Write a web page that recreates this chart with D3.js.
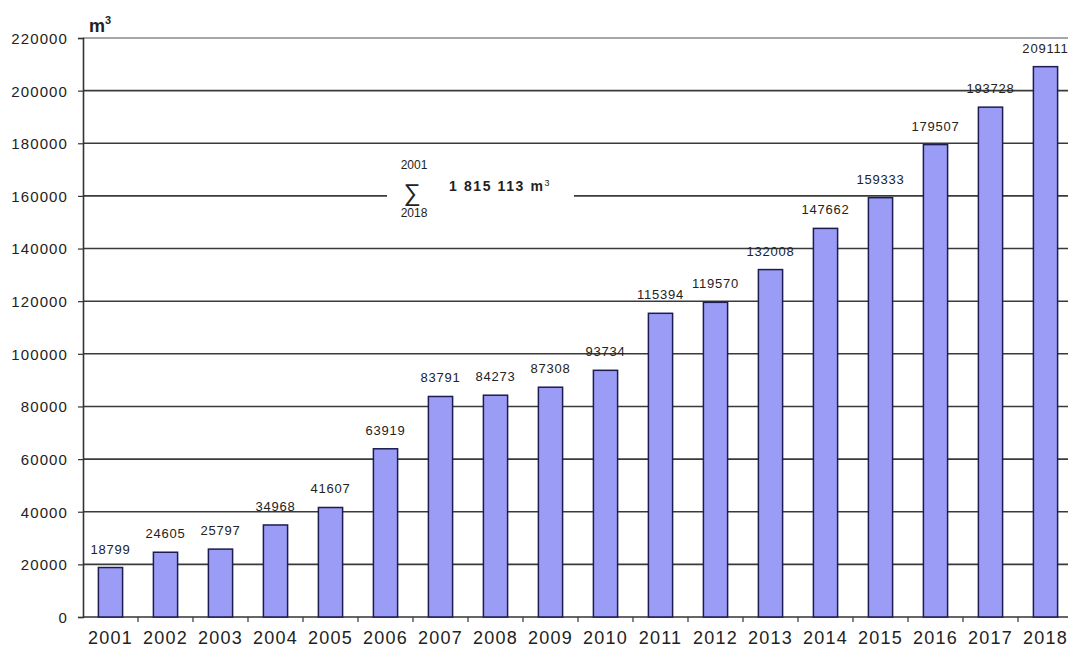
<!DOCTYPE html>
<html>
<head>
<meta charset="utf-8">
<script src="https://cdn.jsdelivr.net/npm/d3@7"></script>
<style>
  html, body { margin: 0; padding: 0; background: #fff; }
  svg { display: block; font-family: "Liberation Sans", Arial, sans-serif; }
</style>
</head>
<body>
<svg id="chart" width="1068" height="647"></svg>
<script>
// Annual volumes, m³
const years = ["2001","2002","2003","2004","2005","2006","2007","2008","2009",
               "2010","2011","2012","2013","2014","2015","2016","2017","2018"];
const volumes = [18799, 24605, 25797, 34968, 41607, 63919, 83791, 84273, 87308,
                 93734, 115394, 119570, 132008, 147662, 159333, 179507, 193728, 209111];
const yTicks = [0, 20000, 40000, 60000, 80000, 100000, 120000, 140000, 160000, 180000, 200000, 220000];
const totalLabel = "1 815 113 m";
const sumFrom = "2001", sumTo = "2018";

const svg = d3.select("#chart");
const plotLeft = 83, plotRight = 1073, plotTop = 38, plotBottom = 617;

const x = d3.scaleBand().domain(years).range([plotLeft, plotRight]).paddingInner(0.56).paddingOuter(0.28);
const xb = d3.scaleBand().domain(years).range([plotLeft, plotRight]);
const y = d3.scaleLinear().domain([0, 220000]).range([plotBottom, plotTop]);

// horizontal gridlines
svg.append("g").selectAll("line").data(yTicks.filter(d => d > 0)).join("line")
  .attr("x1", plotLeft).attr("x2", plotRight)
  .attr("y1", d => y(d)).attr("y2", d => y(d))
  .attr("stroke", d => d === 220000 ? "#8a8a8a" : "#3a3a3a")
  .attr("stroke-width", 1.6);

// y axis
const yAxis = d3.axisLeft(y).tickValues(yTicks).tickSize(5).tickPadding(10).tickFormat(d3.format("d"));
const gy = svg.append("g").attr("transform", `translate(${plotLeft},0)`).call(yAxis);
gy.select(".domain").attr("stroke", "#333").attr("stroke-width", 1.6);
gy.selectAll(".tick line").attr("stroke", "#333").attr("stroke-width", 1.2);
gy.selectAll(".tick text").attr("fill", "#222").attr("dy", "0.36em").style("font-size", "15px")
  .style("letter-spacing", "1.1px")
  .style("font-family", "'Liberation Sans', Arial, sans-serif");

// x axis: ticks at category boundaries
const gx = svg.append("g").attr("transform", `translate(0,${plotBottom})`);
gx.append("line").attr("x1", plotLeft).attr("x2", plotRight).attr("stroke", "#333").attr("stroke-width", 1.6);
gx.selectAll("line.tk").data(years.slice(1)).join("line").attr("class", "tk")
  .attr("x1", d => xb(d)).attr("x2", d => xb(d)).attr("y1", 0).attr("y2", 5)
  .attr("stroke", "#333").attr("stroke-width", 1.2);
gx.selectAll("text").data(years).join("text")
  .attr("x", d => xb(d) + xb.bandwidth() / 2).attr("y", 27)
  .attr("text-anchor", "middle").attr("fill", "#222").style("font-size", "18px")
  .style("letter-spacing", "1.2px")
  .text(d => d);

// bars
svg.append("g").selectAll("rect").data(years).join("rect")
  .attr("x", d => x(d)).attr("width", x.bandwidth())
  .attr("y", (d, i) => y(volumes[i])).attr("height", (d, i) => plotBottom - y(volumes[i]))
  .attr("fill", "#9a9cf5").attr("stroke", "#1c1c50").attr("stroke-width", 1.5);

// value labels
svg.append("g").selectAll("text").data(years).join("text")
  .attr("x", d => x(d) + x.bandwidth() / 2)
  .attr("y", (d, i) => y(volumes[i]) - 14)
  .attr("text-anchor", "middle").attr("fill", "#222").style("font-size", "13px")
  .style("letter-spacing", "0.8px")
  .text((d, i) => volumes[i]);

// unit label
const unit = svg.append("text").attr("x", 89).attr("y", 32)
  .style("font-size", "18px").style("font-weight", "bold").attr("fill", "#222");
unit.append("tspan").text("m");
unit.append("tspan").attr("dy", -8).style("font-size", "11px").text("3");

// total annotation over the 160000 gridline
const ann = svg.append("g");
ann.append("rect").attr("x", 387).attr("y", y(160000) - 32).attr("width", 187).attr("height", 62).attr("fill", "#fff");
ann.append("text").attr("x", 414).attr("y", y(160000) - 27).attr("text-anchor", "middle")
  .style("font-size", "12px").attr("fill", "#222").text(sumFrom);
ann.append("text").attr("x", 412).attr("y", y(160000) + 5).attr("text-anchor", "middle")
  .style("font-size", "24px").attr("fill", "#222").text("\u2211");
ann.append("text").attr("x", 414).attr("y", y(160000) + 21).attr("text-anchor", "middle")
  .style("font-size", "12px").attr("fill", "#222").text(sumTo);
const tot = ann.append("text").attr("x", 449).attr("y", y(160000) - 5)
  .style("font-size", "14px").style("font-weight", "bold").style("letter-spacing", "1.6px").attr("fill", "#222");
tot.append("tspan").text(totalLabel);
tot.append("tspan").attr("dy", -5).style("font-size", "9px").style("font-weight", "normal").text("3");
</script>
</body>
</html>
